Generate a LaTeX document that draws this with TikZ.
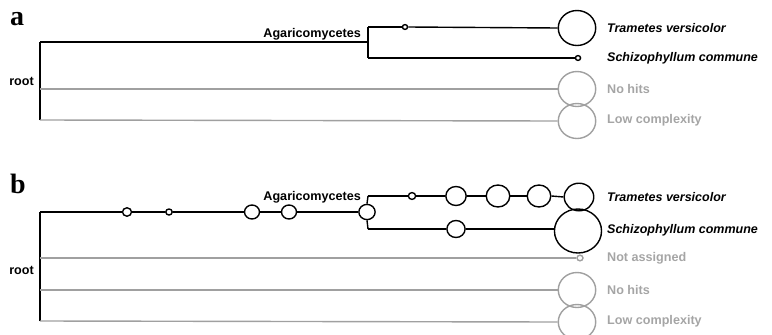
\documentclass[tikz,border=0pt]{standalone}
\usepackage{fontspec}
\setmainfont{Liberation Sans}
\newfontfamily\serifbold{Liberation Serif}
\usetikzlibrary{shapes.geometric}
\definecolor{gline}{RGB}{160,160,160}
\definecolor{gtext}{RGB}{165,165,165}
\tikzset{
  blk/.style={line width=1.4pt, draw=black},
  gry/.style={line width=1.4pt, draw=gline},
  bub/.style={ellipse, draw, line width=1.4pt, inner sep=0pt, minimum width={2.14pt*#1}, minimum height={2pt*#1}},
  gbub/.style={bub=#1, draw=gline},
  lab/.style={font=\fontsize{12.6}{14}\selectfont\bfseries, anchor=west, inner sep=0pt},
  tax/.style={lab, font=\fontsize{12.5}{14}\selectfont\bfseries\itshape},
  glab/.style={lab, text=gtext},
  panel/.style={font=\fontsize{28}{30}\selectfont\serifbold\bfseries, anchor=base west, inner sep=0pt},
}
\begin{document}
\begin{tikzpicture}[x=1pt,y=-1pt]
\useasboundingbox (0,0) rectangle (772,335);
% ---------- panel a ----------
\node[panel] (pa) at (10,25) {a};
\coordinate (ra1) at (40,42);
\coordinate (ra3) at (40,89);
\coordinate (ra4) at (40,120);
\coordinate (aga) at (368,42);
\coordinate (agt) at (368,27);
\coordinate (ags) at (368,58);
\node[lab, anchor=east] (rootA) at (34,81) {root};
\node[lab, anchor=east] (agA) at (361,34) {Agaricomycetes};
\node[bub=2.4] (ta1) at (405,27) {};
\node[bub=17.5] (ta2) at (577,28) {};
\node[bub=2.4] (sa1) at (578,58) {};
\node[gbub=17.5] (na1) at (577,89) {};
\node[gbub=17.5] (la1) at (577,121) {};
\draw[blk] (ra1) -- (ra4);
\draw[blk] (ra1) -- (aga);
\draw[blk] (agt) -- (ags);
\draw[blk] (agt) -- (ta1.west);
\draw[blk] (ta1.east) -- (ta2.west);
\draw[blk] (ags) -- (sa1.west);
\draw[gry] (ra3) -- (na1.west);
\draw[gry] (ra4) -- (la1.west);
\node[tax] (tTA) at (607,28) {Trametes versicolor};
\node[tax] (tSA) at (607,58) {Schizophyllum commune};
\node[glab] (tNA) at (607,89) {No hits};
\node[glab] (tLA) at (607,120) {Low complexity};
% ---------- panel b ----------
\node[panel] (pb) at (10,193) {b};
\coordinate (rb1) at (40,212);
\coordinate (rb2) at (40,258);
\coordinate (rb3) at (40,290);
\coordinate (rb4) at (40,321);
\coordinate (agt2) at (368,196);
\coordinate (ags2) at (368,229);
\node[lab, anchor=east] (rootB) at (34,270) {root};
\node[lab, anchor=east] (agB) at (361,197) {Agaricomycetes};
\node[bub=4.2] (b1) at (127,212) {};
\node[bub=3] (b2) at (169,212) {};
\node[bub=7] (b3) at (252,212) {};
\node[bub=7] (b4) at (289,212) {};
\node[bub=7.6] (b5) at (367,212) {};
\node[bub=3.4] (t1) at (412,196) {};
\node[bub=9.5] (t2) at (456,196) {};
\node[bub=11] (t3) at (498,196) {};
\node[bub=11] (t4) at (539,196) {};
\node[bub=13.8] (t5) at (579,197) {};
\node[bub=8.5] (s1) at (456,229) {};
\node[bub=22] (s2) at (578,231) {};
\node[gbub=2.8] (nb1) at (580,258) {};
\node[gbub=17.5] (nb2) at (577,290) {};
\node[gbub=17.5] (lb1) at (577,322) {};
\draw[blk] (rb1) -- (rb4);
\draw[blk] (rb1) -- (b1.west);
\draw[blk] (b1.east) -- (b2.west);
\draw[blk] (b2.east) -- (b3.west);
\draw[blk] (b3.east) -- (b4.west);
\draw[blk] (b4.east) -- (b5.west);
\draw[blk] (b5.north) -- (agt2);
\draw[blk] (b5.south) -- (ags2);
\draw[blk] (agt2) -- (t1.west);
\draw[blk] (t1.east) -- (t2.west);
\draw[blk] (t2.east) -- (t3.west);
\draw[blk] (t3.east) -- (t4.west);
\draw[blk] (t4.east) -- (t5.west);
\draw[blk] (ags2) -- (s1.west);
\draw[blk] (s1.east) -- (s2.west |- ags2);
\draw[gry] (rb2) -- (nb1.west);
\draw[gry] (rb3) -- (nb2.west);
\draw[gry] (rb4) -- (lb1.west);
\node[tax] (tTB) at (607,197) {Trametes versicolor};
\node[tax] (tSB) at (607,230) {Schizophyllum commune};
\node[glab] (tXB) at (607,258) {Not assigned};
\node[glab] (tNB) at (607,290) {No hits};
\node[glab] (tLB) at (607,321) {Low complexity};
\end{tikzpicture}
\end{document}
